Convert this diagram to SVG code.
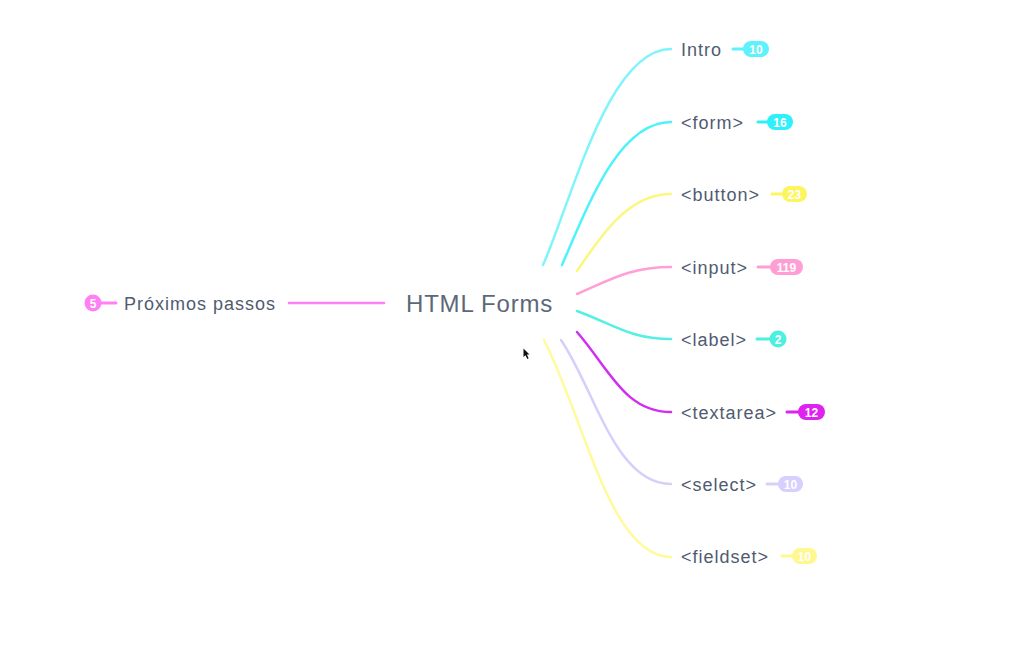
<svg xmlns="http://www.w3.org/2000/svg" width="1020" height="652" viewBox="0 0 1020 652">
<style>
.lbl{font-family:"Liberation Sans","DejaVu Sans",sans-serif;font-size:18px;fill:#505b70;letter-spacing:1px}
.root{font-family:"Liberation Sans","DejaVu Sans",sans-serif;font-size:24px;fill:#5c6878;letter-spacing:0.8px}
.num{font-family:"Liberation Sans Narrow","Liberation Sans","DejaVu Sans",sans-serif;font-size:12px;font-weight:bold;fill:#fff;text-anchor:middle}
.c{fill:none;stroke-width:2.5;stroke-linecap:round}
.t{fill:none;stroke-width:3;stroke-linecap:round}
</style>
<rect width="1020" height="652" fill="#fff"/>
<g id="connectors">
<path class="c" stroke="#7ff5fb" d="M543,265 C572,200 608,49 671,49"/>
<path class="c" stroke="#4ef2fd" d="M562,265 C590,200 620,122 671,122"/>
<path class="c" stroke="#fcf77e" d="M577,271 C605,230 630,194 671,194"/>
<path class="c" stroke="#ff9fd6" d="M577,294 C610,280 630,267 671,267"/>
<path class="c" stroke="#55f0e2" d="M577,311 C615,325 630,339 671,339"/>
<path class="c" stroke="#d22ef2" d="M577,332 C610,370 625,412 671,412"/>
<path class="c" stroke="#d6cffc" d="M561,340 C595,390 615,484 671,484"/>
<path class="c" stroke="#fffa9c" d="M544,340 C585,420 610,557 671,557"/>
<path class="c" stroke="#ff80f4" d="M289,303 L384,303"/>
</g>
<g id="root"><text class="root" x="406" y="312">HTML Forms</text></g>
<g id="proximos">
<text class="lbl" x="124" y="310">Próximos passos</text>
<line class="t" stroke="#ff80f4" x1="100" y1="303" x2="116" y2="303"/>
<circle cx="93" cy="303" r="8.5" fill="#ff80f4"/>
<text class="num" x="93" y="307.5">5</text>
</g>
<g id="intro">
<text class="lbl" x="681" y="56">Intro</text>
<line class="t" stroke="#5ef2fd" x1="733" y1="49" x2="748" y2="49"/>
<rect x="743" y="41" width="26" height="16" rx="8" fill="#5ef2fd"/>
<text class="num" x="756" y="53.5">10</text>
</g>
<g id="form">
<text class="lbl" x="681" y="129">&lt;form&gt;</text>
<line class="t" stroke="#2ef0fc" x1="758" y1="122" x2="772" y2="122"/>
<rect x="767" y="114" width="26" height="16" rx="8" fill="#2ef0fc"/>
<text class="num" x="780" y="126.5">16</text>
</g>
<g id="button">
<text class="lbl" x="681" y="201">&lt;button&gt;</text>
<line class="t" stroke="#fdf560" x1="772" y1="194" x2="786" y2="194"/>
<rect x="782" y="186" width="25" height="16" rx="8" fill="#fdf560"/>
<text class="num" x="794.5" y="198.5">23</text>
</g>
<g id="input">
<text class="lbl" x="681" y="274">&lt;input&gt;</text>
<line class="t" stroke="#ff9ed5" x1="758" y1="267" x2="774" y2="267"/>
<rect x="770" y="259" width="33" height="16" rx="8" fill="#ff9ed5"/>
<text class="num" x="786.5" y="271.5">119</text>
</g>
<g id="label">
<text class="lbl" x="681" y="346">&lt;label&gt;</text>
<line class="t" stroke="#4cf0e0" x1="757" y1="339" x2="772" y2="339"/>
<circle cx="778" cy="339" r="8.5" fill="#4cf0e0"/>
<text class="num" x="778" y="343.5">2</text>
</g>
<g id="textarea">
<text class="lbl" x="681" y="419">&lt;textarea&gt;</text>
<line class="t" stroke="#de22f0" x1="787" y1="412" x2="802" y2="412"/>
<rect x="798" y="404" width="27" height="16" rx="8" fill="#de22f0"/>
<text class="num" x="811.5" y="416.5">12</text>
</g>
<g id="select">
<text class="lbl" x="681" y="491">&lt;select&gt;</text>
<line class="t" stroke="#d7cffd" x1="767" y1="484" x2="782" y2="484"/>
<rect x="778" y="476" width="25" height="16" rx="8" fill="#d7cffd"/>
<text class="num" x="790.5" y="488.5">10</text>
</g>
<g id="fieldset">
<text class="lbl" x="681" y="563">&lt;fieldset&gt;</text>
<line class="t" stroke="#fff88e" x1="782" y1="556" x2="796" y2="556"/>
<rect x="792" y="548" width="25" height="16" rx="8" fill="#fff88e"/>
<text class="num" x="804.5" y="560.5">10</text>
</g>
<polygon points="523.5,348.5 523.5,357 525.5,355.2 527.3,359 528.6,358.3 526.9,354.6 529.5,354.6" fill="#111"/>
</svg>
